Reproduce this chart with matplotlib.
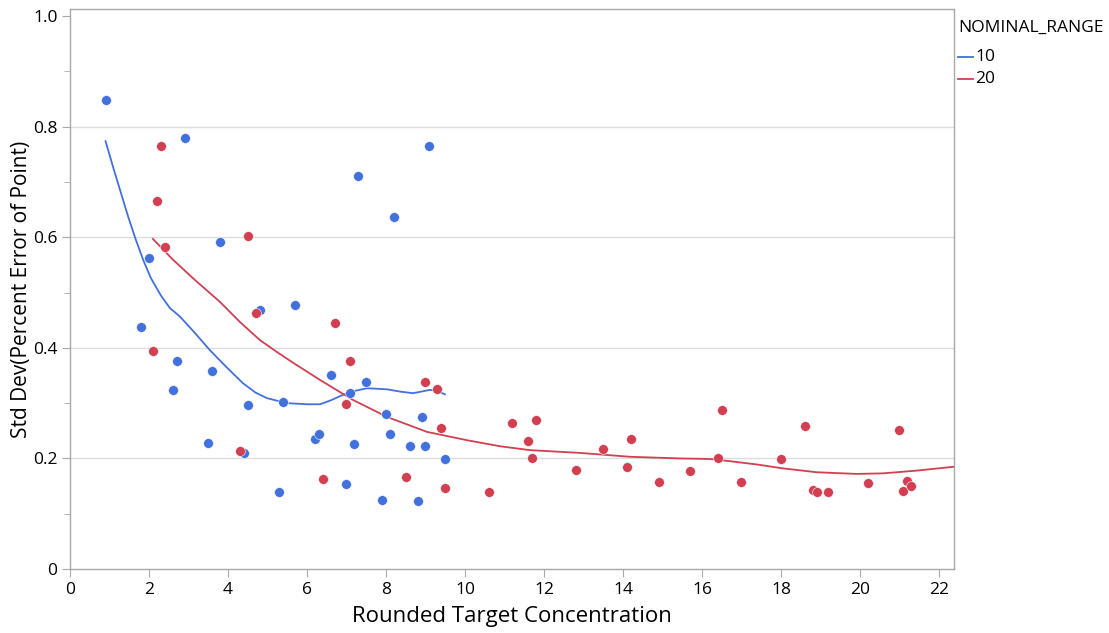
"""Std dev of percent error vs rounded target concentration, by nominal range."""
import matplotlib
matplotlib.use("Agg")
import matplotlib.pyplot as plt
from matplotlib.lines import Line2D
from matplotlib.ticker import MultipleLocator

plt.rcParams["font.family"] = ["Open Sans", "DejaVu Sans"]

BLUE = "#4270DD"; RED = "#D23F51"; GRID = "#dcdcdc"; SPINE = "#a8a8a8"

# NOMINAL_RANGE = 10 : points
x10 = [0.9, 2.0, 1.8, 2.7, 2.6, 2.9, 3.8, 3.6, 3.5, 4.4, 4.5, 4.8,
       5.3, 5.4, 5.7, 6.2, 6.3, 6.6, 7.0, 7.1, 7.2, 7.3, 7.5, 7.9,
       8.0, 8.1, 8.2, 8.6, 8.8, 8.9, 9.0, 9.1, 9.5]
y10 = [0.848, 0.562, 0.438, 0.376, 0.324, 0.779, 0.591, 0.358, 0.228, 0.210, 0.297, 0.468,
       0.139, 0.302, 0.477, 0.235, 0.244, 0.351, 0.154, 0.319, 0.226, 0.711, 0.338, 0.125,
       0.281, 0.244, 0.637, 0.222, 0.123, 0.275, 0.222, 0.765, 0.199]

# NOMINAL_RANGE = 20 : points
x20 = [2.3, 2.2, 2.4, 2.1, 4.5, 4.7, 4.3, 6.4, 6.7, 7.1, 7.0, 8.5,
       9.0, 9.3, 9.4, 9.5, 10.6, 11.2, 11.8, 11.6, 11.7, 12.8, 13.5, 14.2,
       14.1, 14.9, 15.7, 16.4, 16.5, 17.0, 18.0, 18.6, 18.8, 18.9, 19.2,
       20.2, 21.0, 21.2, 21.1, 21.3]
y20 = [0.765, 0.665, 0.582, 0.394, 0.602, 0.463, 0.213, 0.163, 0.445, 0.376, 0.298, 0.166,
       0.338, 0.325, 0.255, 0.146, 0.139, 0.264, 0.269, 0.231, 0.201, 0.179, 0.217, 0.235,
       0.184, 0.157, 0.177, 0.201, 0.287, 0.157, 0.199, 0.259, 0.143, 0.139, 0.139,
       0.155, 0.251, 0.159, 0.141, 0.150]

# smoother curves
sx10 = [0.90, 1.10, 1.27, 1.47, 1.67, 1.86, 2.05, 2.30, 2.53, 2.78, 3.15, 3.54, 3.95,
        4.38, 4.70, 4.99, 5.49, 6.00, 6.33, 6.60, 6.91, 7.20, 7.52, 8.03, 8.35, 8.68,
        8.90, 9.11, 9.30, 9.49]
sy10 = [0.774, 0.725, 0.685, 0.638, 0.595, 0.558, 0.526, 0.495, 0.472, 0.457, 0.428, 0.396, 0.366,
        0.336, 0.319, 0.309, 0.300, 0.298, 0.298, 0.305, 0.315, 0.322, 0.327, 0.325, 0.321, 0.318,
        0.321, 0.324, 0.322, 0.316]
sx20 = [2.10, 2.60, 3.16, 3.80, 4.30, 4.81, 5.25, 5.65, 6.33, 7.16, 8.03, 9.04, 10.05,
        10.89, 11.65, 12.91, 14.18, 15.44, 16.20, 16.71, 17.40, 18.05, 18.91, 19.92, 20.58,
        21.44, 22.38]
sy20 = [0.597, 0.560, 0.523, 0.483, 0.447, 0.414, 0.392, 0.373, 0.342, 0.306, 0.275, 0.248, 0.233,
        0.222, 0.215, 0.210, 0.203, 0.200, 0.199, 0.195, 0.189, 0.182, 0.175, 0.172, 0.173,
        0.178, 0.185]

ranges = ["10", "20"]

fig = plt.figure(figsize=(11.09, 6.33), dpi=100)
ax = fig.add_axes([0.0631, 0.1011, 0.7971, 0.8847])

ax.plot(sx10, sy10, color=BLUE, lw=1.3, zorder=3)
ax.plot(sx20, sy20, color=RED, lw=1.3, zorder=3)
ax.scatter(x10, y10, s=50, color=BLUE, edgecolor="white", linewidth=0.4, zorder=4)
ax.scatter(x20, y20, s=50, color=RED, edgecolor="white", linewidth=0.4, zorder=4)

ax.set_xlim(0, 22.38)
ax.set_ylim(0, 1.013)
ax.xaxis.set_major_locator(MultipleLocator(2))
ax.yaxis.set_minor_locator(MultipleLocator(0.1))
ax.set_yticks([0, 0.2, 0.4, 0.6, 0.8, 1.0])
ax.set_yticklabels(["0", "0.2", "0.4", "0.6", "0.8", "1.0"])
for g in [0.2, 0.4, 0.6, 0.8]:
    ax.axhline(g, color=GRID, lw=1, zorder=1)

ax.tick_params(axis="both", which="major", length=6, color=SPINE, labelsize=12.5, pad=3)
ax.tick_params(axis="y", which="minor", length=4, color=SPINE)
for s in ax.spines.values():
    s.set_color(SPINE)
    s.set_linewidth(1)

ax.set_xlabel("Rounded Target Concentration", fontsize=16, labelpad=6)
ax.set_ylabel("Std Dev(Percent Error of Point)", fontsize=15)
ax.yaxis.set_label_coords(-0.043, 0.5)

# legend
fig.text(958 / 1109, 1 - 28 / 633, "NOMINAL_RANGE", fontsize=12.5, ha="left", va="center")
for i, (lab, col) in enumerate(zip(ranges, [BLUE, RED])):
    yy = 1 - (57 + 22 * i) / 633
    fig.add_artist(Line2D([958 / 1109, 973 / 1109], [yy, yy], color=col, lw=1.3))
    fig.text(975 / 1109, yy, lab, fontsize=12.5, ha="left", va="center")

fig.savefig("out.png", dpi=100, facecolor="white")
